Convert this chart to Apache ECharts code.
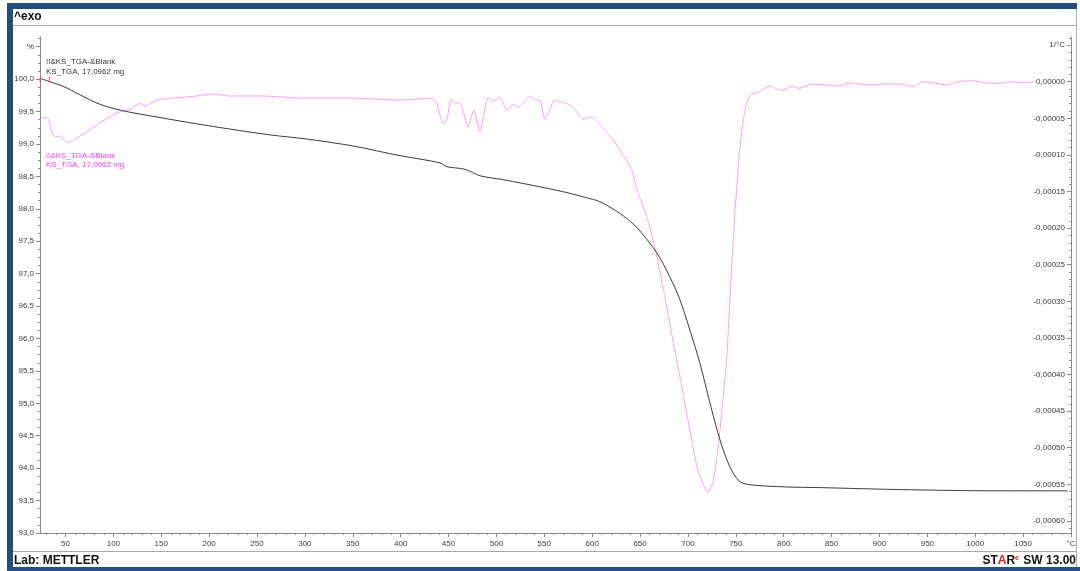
<!DOCTYPE html>
<html>
<head>
<meta charset="utf-8">
<script src="https://cdn.jsdelivr.net/npm/echarts@6/dist/echarts.min.js"></script>
<style>
html,body{margin:0;padding:0;background:#ffffff;}
#chart{width:1080px;height:571px;}
</style>
</head>
<body>
<div id="chart"></div>
<script>
// ---- Data ----
// TGA curve (left axis, %)
const tgaTemp = [24.4, 33.8, 47.4, 65.1, 82.9, 99.6, 117.3, 151.8, 187.3, 221.7, 263.5, 300, 350, 399.2, 441, 448.3, 467.1, 482.8, 506.8, 548.5, 573.6, 594.5, 608, 628.9, 646.7, 667.5, 681.1, 691.6, 702, 712.5, 722.9, 733.4, 743.8, 754.3, 767.8, 803.3, 837.7, 921.2, 1025.6, 1096.6];
const tgaMass = [100.01, 99.96, 99.89, 99.76, 99.63, 99.55, 99.49, 99.40, 99.31, 99.23, 99.14, 99.08, 98.97, 98.82, 98.71, 98.65, 98.61, 98.51, 98.45, 98.33, 98.25, 98.17, 98.11, 97.93, 97.71, 97.32, 96.95, 96.60, 96.13, 95.62, 95.01, 94.44, 94.02, 93.79, 93.74, 93.71, 93.70, 93.67, 93.65, 93.65];

// DTG curve (right axis, 1/°C)
const dtgTemp = [24.4, 31.2, 35.4, 38.5, 43.8, 46.9, 52.1, 57.3, 65.1, 75.6, 86.0, 96.5, 106.9, 117.3, 127.8, 133, 145.5, 159.1, 180, 204, 221.7, 256.2, 294.8, 347, 399.2, 432.6, 437.8, 444.1, 448.3, 452.5, 456.6, 461.9, 470.2, 476.5, 482.8, 491.1, 496.3, 503.7, 511, 517.2, 522.5, 529.8, 535, 540.2, 545.4, 550.6, 555.9, 560, 566.3, 573.6, 579.9, 590.3, 599.7, 611.2, 621.6, 632.1, 641.5, 646.7, 651.9, 657.1, 665.5, 675.9, 684.2, 693.6, 702, 710.3, 717.6, 720.8, 726, 731.2, 736.5, 740.6, 743.8, 749, 754.3, 759.5, 764.7, 774.3, 784.7, 798.3, 808.7, 816, 826.4, 834.8, 845.2, 857.7, 868.2, 878.6, 892.2, 906.8, 920.4, 936, 944.4, 959, 969.5, 983, 996.6, 1011.2, 1024.8, 1038.4, 1053, 1063.4];
const dtgRate = [-4.92e-5, -4.92e-5, -6.60e-5, -7.55e-5, -7.42e-5, -7.69e-5, -8.33e-5, -8.06e-5, -7.42e-5, -6.60e-5, -5.60e-5, -4.78e-5, -4.10e-5, -3.77e-5, -2.95e-5, -3.32e-5, -2.50e-5, -2.27e-5, -2.05e-5, -1.68e-5, -1.95e-5, -1.95e-5, -2.23e-5, -2.23e-5, -2.50e-5, -2.27e-5, -2.91e-5, -5.78e-5, -5.23e-5, -2.36e-5, -2.91e-5, -2.87e-5, -6.19e-5, -3.87e-5, -6.83e-5, -2.13e-5, -2.64e-5, -2.13e-5, -3.96e-5, -3.09e-5, -3.50e-5, -2.73e-5, -1.95e-5, -2.50e-5, -2.50e-5, -5.14e-5, -3.87e-5, -2.50e-5, -2.73e-5, -2.95e-5, -3.42e-5, -5.14e-5, -4.78e-5, -6.33e-5, -7.83e-5, -10.01e-5, -12.06e-5, -14.80e-5, -16.57e-5, -18.45e-5, -22.58e-5, -29.41e-5, -35.29e-5, -41.71e-5, -47.58e-5, -53.05e-5, -55.52e-5, -56.06e-5, -54.83e-5, -50.31e-5, -43.48e-5, -37.61e-5, -29.82e-5, -17.94e-5, -8.92e-5, -3.87e-5, -1.82e-5, -1.37e-5, -0.59e-5, -1.23e-5, -0.59e-5, -0.90e-5, -0.45e-5, -0.31e-5, -0.45e-5, -0.59e-5, -0.14e-5, -0.31e-5, -0.45e-5, -0.31e-5, -0.31e-5, -0.68e-5, 0, -0.22e-5, -0.45e-5, 0, 0.14e-5, -0.14e-5, -0.22e-5, 0, -0.14e-5, 0];

// start markers (red) on the TGA curve
const startMarkTemp = [23.6, 33.1];
const startMarkMass = [100.0, 100.0];

// Axis ticks / labels
const xLabels = [50, 100, 150, 200, 250, 300, 350, 400, 450, 500, 550, 600, 650, 700, 750, 800, 850, 900, 950, 1000, 1050, 1100];
const xMinor = [30, 40, 60, 70, 80, 90, 110, 120, 130, 140, 160, 170, 180, 190, 210, 220, 230, 240, 260, 270, 280, 290, 310, 320, 330, 340, 360, 370, 380, 390, 410, 420, 430, 440, 460, 470, 480, 490, 510, 520, 530, 540, 560, 570, 580, 590, 610, 620, 630, 640, 660, 670, 680, 690, 710, 720, 730, 740, 760, 770, 780, 790, 810, 820, 830, 840, 860, 870, 880, 890, 910, 920, 930, 940, 960, 970, 980, 990, 1010, 1020, 1030, 1040, 1060, 1070, 1080, 1090];
const leftLabels = [93.0, 93.5, 94.0, 94.5, 95.0, 95.5, 96.0, 96.5, 97.0, 97.5, 98.0, 98.5, 99.0, 99.5, 100.0, 100.5];
const leftMinor = [93.125, 93.25, 93.375, 93.625, 93.75, 93.875, 94.125, 94.25, 94.375, 94.625, 94.75, 94.875, 95.125, 95.25, 95.375, 95.625, 95.75, 95.875, 96.125, 96.25, 96.375, 96.625, 96.75, 96.875, 97.125, 97.25, 97.375, 97.625, 97.75, 97.875, 98.125, 98.25, 98.375, 98.625, 98.75, 98.875, 99.125, 99.25, 99.375, 99.625, 99.75, 99.875, 100.125, 100.25, 100.375, 100.625];
const rightLabels = [-0.0006, -0.00055, -0.0005, -0.00045, -0.0004, -0.00035, -0.0003, -0.00025, -0.0002, -0.00015, -0.0001, -0.00005, 0, 0.00005];
const rightMinor = [-0.00061, -0.00059, -0.00058, -0.00057, -0.00056, -0.00054, -0.00053, -0.00052, -0.00051, -0.00049, -0.00048, -0.00047, -0.00046, -0.00044, -0.00043, -0.00042, -0.00041, -0.00039, -0.00038, -0.00037, -0.00036, -0.00034, -0.00033, -0.00032, -0.00031, -0.00029, -0.00028, -0.00027, -0.00026, -0.00024, -0.00023, -0.00022, -0.00021, -0.00019, -0.00018, -0.00017, -0.00016, -0.00014, -0.00013, -0.00012, -0.00011, -0.00009, -0.00008, -0.00007, -0.00006, -0.00004, -0.00003, -0.00002, -0.00001, 0.00001, 0.00002, 0.00003, 0.00004, 0.00006];

// ---- Chart ----
const chart = echarts.init(document.getElementById('chart'), null, {renderer: 'canvas'});

const FONT = 'Liberation Sans';
const axisGray = '#8a8a8a';
const labelColor = '#3a3a3a';
const xMin = 23.4, xMax = 1100;
const yLMin = 93, yLMax = 100.65;
const yRMin = -0.0006165, yRMax = 0.0000611;

function fmtLeft(v) {
  if (Math.abs(v - 100.5) < 1e-6) return '%';
  return v.toFixed(1).replace('.', ',');
}
function fmtRight(v) {
  if (v > 0.00004) return '1/°C';
  let s = v.toFixed(5);
  if (s === '-0.00000') s = '0.00000';
  return s.replace('.', ',');
}
function fmtX(v) {
  if (v === 1100) return '°C';
  return String(v);
}

const tgaData = tgaTemp.map((t, i) => [t, tgaMass[i]]);
const dtgData = dtgTemp.map((t, i) => [t, dtgRate[i]]);
const markData = startMarkTemp.map((t, i) => [t, startMarkMass[i]]);

const option = {
  animation: false,
  backgroundColor: '#ffffff',
  grid: {left: 40, right: 9, top: 37, bottom: 38, containLabel: false},
  xAxis: [
    {
      type: 'value', min: xMin, max: xMax, position: 'bottom',
      axisLine: {show: true, onZero: false, lineStyle: {color: axisGray, width: 1}},
      axisTick: {show: true, length: 4, lineStyle: {color: axisGray}, customValues: xLabels},
      axisLabel: {show: true, customValues: xLabels, formatter: fmtX, color: labelColor,
        fontFamily: FONT, fontSize: 8, margin: 7},
      splitLine: {show: false}
    },
    {
      type: 'value', min: xMin, max: xMax, position: 'bottom',
      axisLine: {show: false, onZero: false},
      axisTick: {show: true, length: 2, lineStyle: {color: axisGray}, customValues: xMinor},
      axisLabel: {show: false},
      splitLine: {show: false}
    }
  ],
  yAxis: [
    {
      type: 'value', min: yLMin, max: yLMax, position: 'left',
      axisLine: {show: true, onZero: false, lineStyle: {color: axisGray, width: 1}},
      axisTick: {show: true, length: 4, lineStyle: {color: axisGray}, customValues: leftLabels},
      axisLabel: {show: true, customValues: leftLabels, formatter: fmtLeft, color: labelColor,
        fontFamily: FONT, fontSize: 8, margin: 6},
      splitLine: {show: false}
    },
    {
      type: 'value', min: yRMin, max: yRMax, position: 'right',
      axisLine: {show: true, onZero: false, lineStyle: {color: axisGray, width: 1}},
      axisTick: {show: true, inside: true, length: 4, lineStyle: {color: axisGray}, customValues: rightLabels},
      axisLabel: {show: true, inside: true, customValues: rightLabels, formatter: fmtRight, color: labelColor,
        fontFamily: FONT, fontSize: 8, margin: 6},
      splitLine: {show: false}
    },
    {
      type: 'value', min: yLMin, max: yLMax, position: 'left',
      axisLine: {show: false, onZero: false},
      axisTick: {show: true, length: 2, lineStyle: {color: axisGray}, customValues: leftMinor},
      axisLabel: {show: false},
      splitLine: {show: false}
    },
    {
      type: 'value', min: yRMin, max: yRMax, position: 'right',
      axisLine: {show: false, onZero: false},
      axisTick: {show: true, inside: true, length: 2, lineStyle: {color: axisGray}, customValues: rightMinor},
      axisLabel: {show: false},
      splitLine: {show: false}
    }
  ],
  series: [
    {
      name: 'DTG', type: 'line', xAxisIndex: 0, yAxisIndex: 1,
      data: dtgData, showSymbol: false, smooth: 0.15,
      lineStyle: {color: '#ff9cff', width: 1},
      z: 2
    },
    {
      name: 'TGA', type: 'line', xAxisIndex: 0, yAxisIndex: 0,
      data: tgaData, showSymbol: false, smooth: 0.3,
      lineStyle: {color: '#3a3a3a', width: 1},
      z: 3
    },
    {
      name: 'start', type: 'scatter', xAxisIndex: 0, yAxisIndex: 0,
      data: markData, symbol: 'rect', symbolSize: [1, 6],
      itemStyle: {color: '#e03838'}, z: 4
    }
  ],
  graphic: [
    // outer frame
    {type: 'rect', shape: {x: 7, y: 3, width: 6, height: 568}, style: {fill: '#234e82'}, silent: true},
    {type: 'rect', shape: {x: 7, y: 3, width: 1070, height: 6}, style: {fill: '#234e82'}, silent: true},
    {type: 'rect', shape: {x: 7, y: 567, width: 1073, height: 4}, style: {fill: '#234e82'}, silent: true},
    {type: 'line', shape: {x1: 13, y1: 25.5, x2: 1077, y2: 25.5}, style: {stroke: '#a8a8a8', lineWidth: 1}, silent: true},
    {type: 'line', shape: {x1: 13, y1: 551.5, x2: 1077, y2: 551.5}, style: {stroke: '#a8a8a8', lineWidth: 1}, silent: true},
    {type: 'line', shape: {x1: 1076.5, y1: 9, x2: 1076.5, y2: 567}, style: {stroke: '#b0b0b0', lineWidth: 1}, silent: true},
    // header / footer texts
    {type: 'text', x: 14, y: 17, style: {text: '^exo', font: 'bold 12px "Liberation Sans"', fill: '#111111', verticalAlign: 'middle'}, silent: true},
    {type: 'text', x: 14, y: 561, style: {text: 'Lab: METTLER', font: 'bold 12px "Liberation Sans"', fill: '#111111', verticalAlign: 'middle'}, silent: true},
    {type: 'text', x: 1076, y: 561, style: {
      text: '{d|ST}{r|A}{d|R}{s|e}{d| SW 13.00}',
      align: 'right', verticalAlign: 'middle',
      rich: {
        d: {font: 'bold 12px "Liberation Sans"', fill: '#111111'},
        r: {font: 'bold 12px "Liberation Sans"', fill: '#e0241b'},
        s: {font: 'bold 7px "Liberation Sans"', fill: '#e0241b', verticalAlign: 'top', padding: [0, 1, 6, 0]}
      }
    }, silent: true},
    // curve captions
    {type: 'text', x: 46, y: 62, style: {text: '!!&KS_TGA-&Blank', font: '8px "Liberation Sans"', fill: '#333333', verticalAlign: 'middle'}, silent: true},
    {type: 'text', x: 46, y: 72, style: {text: 'KS_TGA, 17,0962 mg', font: '8px "Liberation Sans"', fill: '#333333', verticalAlign: 'middle'}, silent: true},
    {type: 'text', x: 46, y: 156, style: {text: '\\\\&KS_TGA-&Blank', font: '8px "Liberation Sans"', fill: '#ff3cff', verticalAlign: 'middle'}, silent: true},
    {type: 'text', x: 46, y: 165, style: {text: 'KS_TGA, 17,0962 mg', font: '8px "Liberation Sans"', fill: '#ff3cff', verticalAlign: 'middle'}, silent: true}
  ]
};
chart.setOption(option);
</script>
</body>
</html>
